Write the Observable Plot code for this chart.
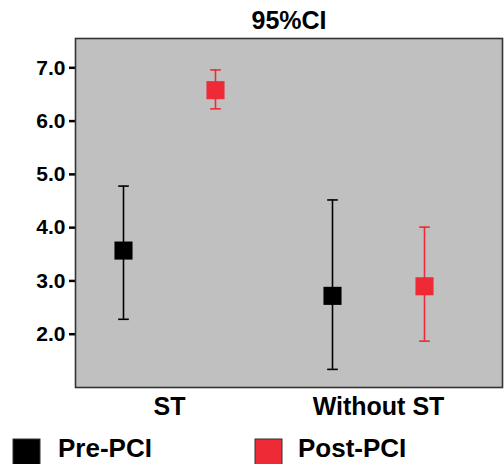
<!DOCTYPE html>
<html>
<head>
<meta charset="utf-8">
<script src="https://cdn.jsdelivr.net/npm/d3@7"></script>
<script src="https://cdn.jsdelivr.net/npm/@observablehq/plot@0.6"></script>
<style>
  html, body { margin: 0; padding: 0; background: #fff; }
  #chart { width: 504px; height: 464px; overflow: hidden; }
  svg { font-family: "Liberation Sans", Arial, sans-serif; }
</style>
</head>
<body>
<div id="chart"></div>
<script>
// ---- data ----
const title = "95%CI";
const groups = ["ST", "Without ST"];
const seriesNames = ["Pre-PCI", "Post-PCI"];
const seriesColors = ["#000000", "#ee2a36"];
const preMean = [3.57, 2.72];
const preLow = [2.28, 1.34];
const preHigh = [4.78, 4.52];
const postMean = [6.58, 2.90];
const postLow = [6.23, 1.87];
const postHigh = [6.96, 4.01];
const yTicks = [2, 3, 4, 5, 6, 7];

const seriesData = [
  {mean: preMean, low: preLow, high: preHigh},
  {mean: postMean, low: postLow, high: postHigh}
];
const rows = seriesData.map((s, si) => groups.map((g, gi) => ({
  group: g, series: seriesNames[si], si,
  mean: s.mean[gi], low: s.low[gi], high: s.high[gi]
})));

const capSymbol = {
  draw(context, size) {
    const w = Math.sqrt(size) / 2;
    context.moveTo(-w, 0);
    context.lineTo(w, 0);
  }
};

const W = 504, H = 464;
const mL = 75, mR = 2, mT = 38, mB = 77;
const offset = 46;

const marks = [
  Plot.frame({fill: "#c0c0c0"}),
  Plot.axisY({ticks: yTicks, tickFormat: d3.format(".1f"), tickSize: 6, strokeWidth: 2.5,
    tickPadding: 4, fontSize: 21, fontWeight: "bold", label: null}),
  Plot.axisX({tickSize: 0, tickPadding: 10, fontSize: 25, fontWeight: "bold", label: null})
];
rows.forEach((data, si) => {
  const color = seriesColors[si];
  const dx = (si === 0 ? -1 : 1) * offset;
  marks.push(
    Plot.ruleX(data, {x: "group", y1: "low", y2: "high", stroke: color, strokeWidth: 1.6, dx}),
    Plot.dot(data, {x: "group", y: "high", symbol: capSymbol, r: 6, stroke: color, strokeWidth: 1.6, dx}),
    Plot.dot(data, {x: "group", y: "low", symbol: capSymbol, r: 6, stroke: color, strokeWidth: 1.6, dx}),
    Plot.dot(data, {x: "group", y: "mean", symbol: "square", r: 10.2, fill: color, stroke: null, dx})
  );
});
marks.push(Plot.frame({stroke: "#333333", strokeWidth: 1.6}));
marks.push(Plot.text([title], {frameAnchor: "top", lineAnchor: "bottom", dy: -10, fontSize: 25, fontWeight: "bold", fill: "black", textAnchor: "middle"}));

const plot = Plot.plot({
  width: W, height: H,
  marginLeft: mL, marginRight: mR, marginTop: mT, marginBottom: mB,
  style: {background: "white", color: "black", fontFamily: "Liberation Sans, Arial, sans-serif"},
  x: {type: "point", domain: groups, padding: 0, insetLeft: 94, insetRight: 124},
  y: {domain: [1, 7.55]},
  marks
});

// legend below the plot area
const svg = d3.select(plot);
const leg = svg.append("g").attr("font-size", 26).attr("font-weight", "bold")
  .attr("text-anchor", "start")
  .attr("font-family", "Liberation Sans, Arial, sans-serif");
const legX = [13, 255];
const legTextX = [58, 298];
seriesNames.forEach((name, i) => {
  leg.append("rect").attr("x", legX[i]).attr("y", 439).attr("width", 27).attr("height", 27)
    .attr("fill", seriesColors[i]).attr("stroke", "#333").attr("stroke-width", 1);
  leg.append("text").attr("x", legTextX[i]).attr("y", 457).attr("fill", "black").text(name);
});

document.getElementById("chart").appendChild(plot);
</script>
</body>
</html>
